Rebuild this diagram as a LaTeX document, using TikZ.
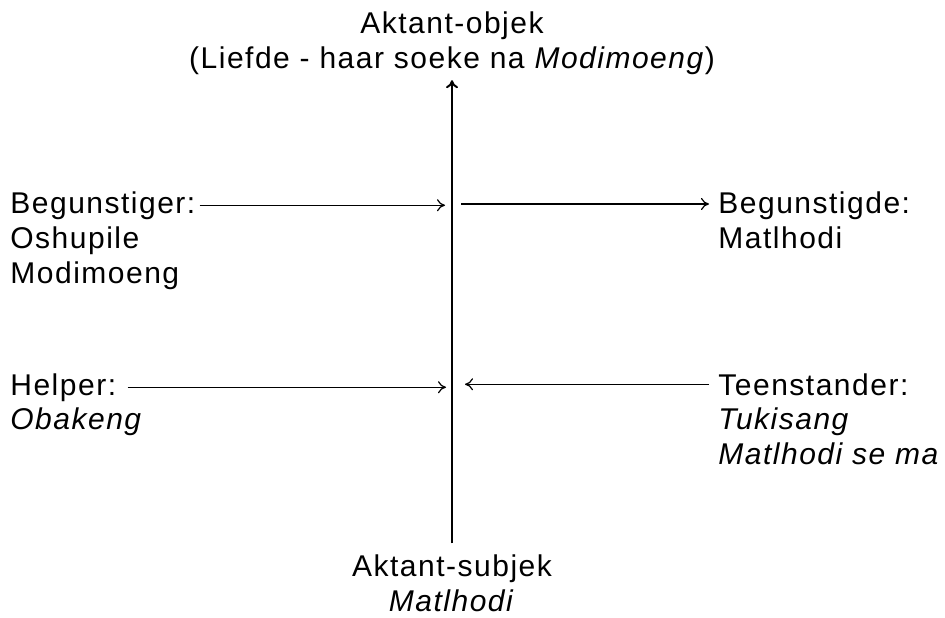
\documentclass[tikz,border=0pt]{standalone}
\usepackage{fontspec}
\setmainfont[LetterSpace=5]{Liberation Sans}
\usepackage{tikz}
\usetikzlibrary{arrows.meta}

\tikzset{
  role/.style={inner sep=0pt, font=\fontsize{15}{17.25}\selectfont, align=left},
  link/.style={-{To[length=4pt,width=6pt]}, line width=0.6pt},
  axis/.style={-{To[length=4pt,width=6pt]}, line width=1pt}
}

\begin{document}
\begin{tikzpicture}[x=0.5pt,y=-0.5pt]
    \def \ax {452} % x of the axis, in px of the scan
    \useasboundingbox (0,0) rectangle (945,617);
    % object on top, subject below (base = last line)
    \node[role, align=center, anchor=base] (obj) at (\ax,68)
      {Aktant-objek\\(Liefde - haar soeke na \textit{Modimoeng})};
    \node[role, align=center, anchor=base] (subj) at (\ax,611)
      {Aktant-subjek\\\textit{Matlhodi}};
    \draw[axis, shorten <=5.5pt, shorten >=2.8pt] (subj.north) -- (obj.south);

    % the four side roles
    \node[role, anchor=base west] (begr) at (10,213) {Begunstiger:};
    \node[role, anchor=base west] (begrName) at (10,283) {Oshupile\\Modimoeng};
    \node[role, anchor=base west] (bgde) at (718,213) {Begunstigde:};
    \node[role, anchor=base west] (bgdeName) at (718,248) {Matlhodi};
    \node[role, anchor=base west] (help) at (10,395) {Helper:};
    \node[role, anchor=base west] (helpName) at (10,429.5) {\textit{Obakeng}};
    \node[role, anchor=base west] (teen) at (718,395) {Teenstander:};
    \node[role, anchor=base west] (teenName) at (718,464)
      {\textit{Tukisang}\\\textit{Matlhodi se ma}};

    \coordinate (begrTip) at (445,204);
    \coordinate (bgdeTail) at (461,204);
    \coordinate (helpTip) at (446,385);
    \coordinate (teenTip) at (465,385);

    \draw[link, shorten <=2pt] (begr.east) -- (begr.east -| begrTip);
    \draw[link, shorten >=4.5pt] (bgdeTail) -- (bgdeTail -| bgde.west);
    \draw[link, shorten <=5.5pt] (help.east) -- (help.east -| helpTip);
    \draw[link, shorten <=4.5pt] (teen.west) -- (teen.west -| teenTip);
\end{tikzpicture}
\end{document}
